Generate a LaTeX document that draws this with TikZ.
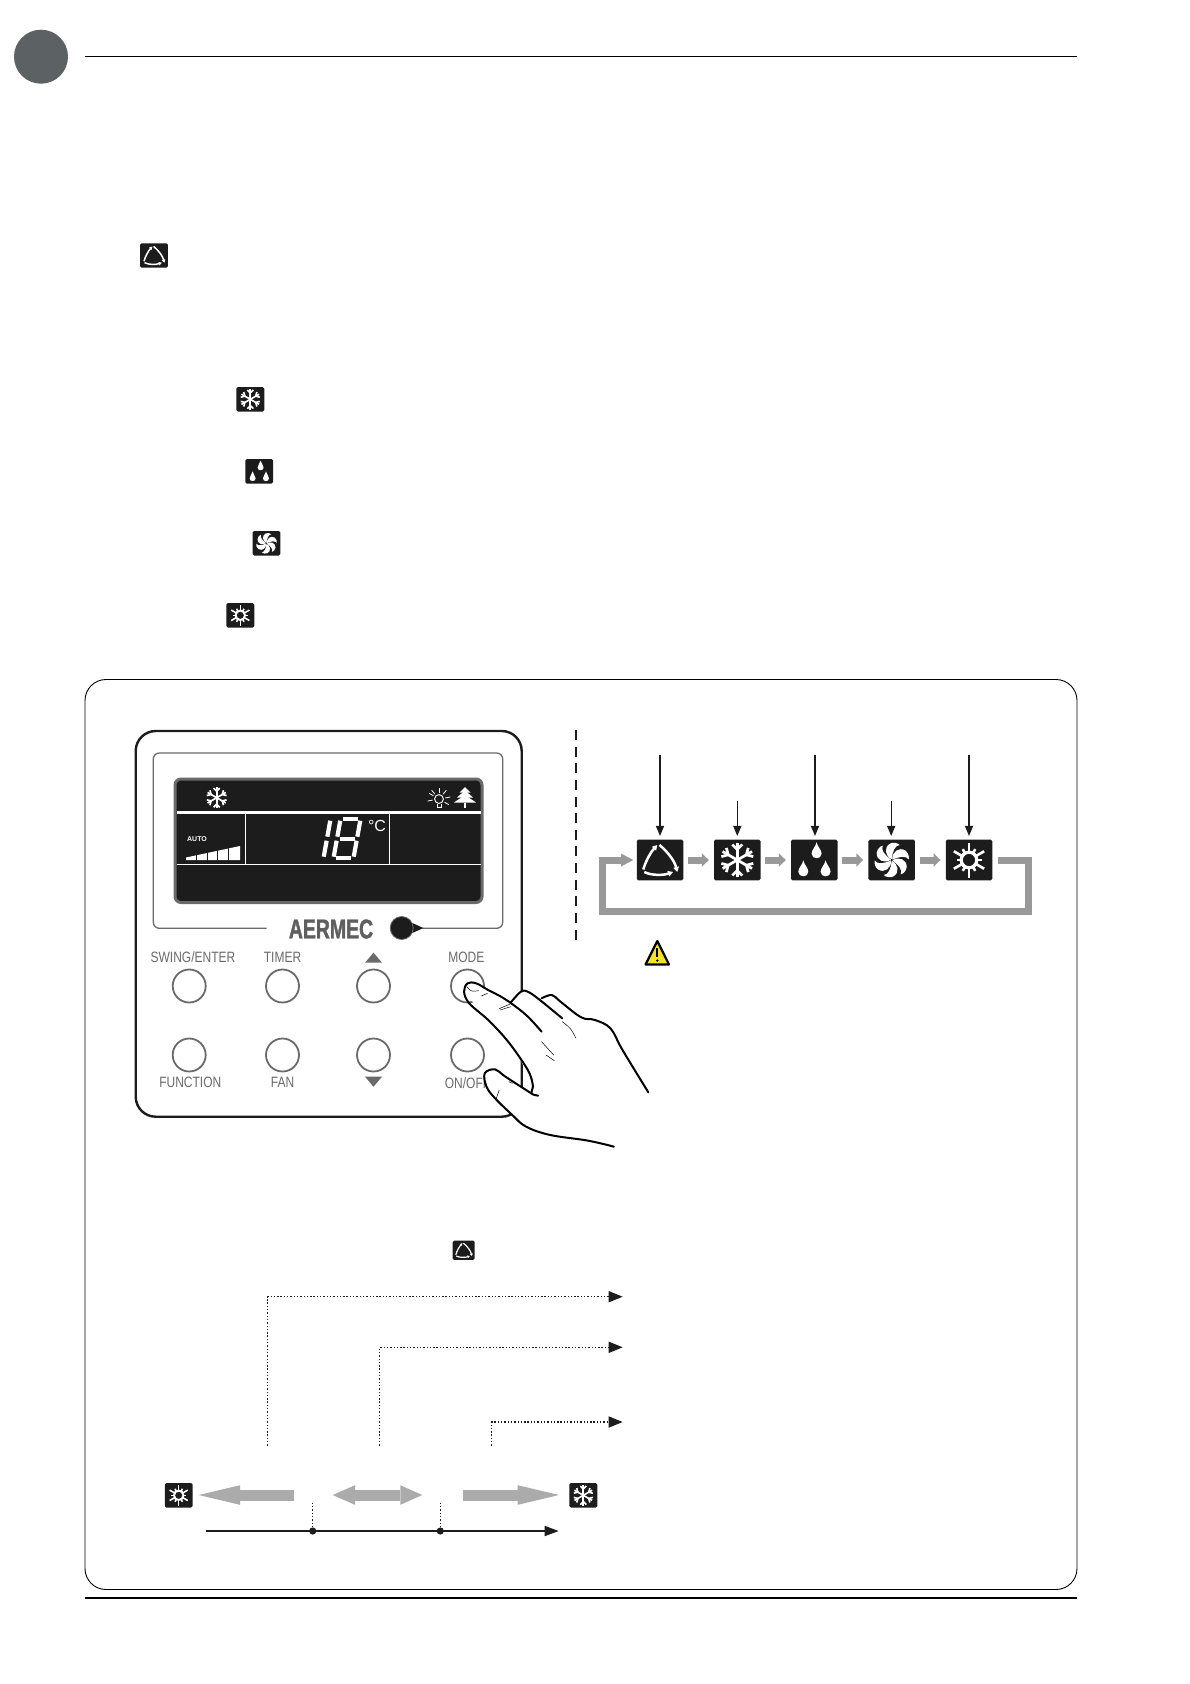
\documentclass[tikz,border=0pt]{standalone}
\usepackage{fontspec}
\setmainfont{Liberation Sans}
\newfontfamily\panelfont[FakeStretch=0.8]{Liberation Sans}
\newfontfamily\logofont[FakeStretch=0.72,BoldFeatures={FakeStretch=0.72,FakeBold=1.4}]{Liberation Sans}
\usepackage{tikz}
\usetikzlibrary{arrows.meta}
\definecolor{xdark}{HTML}{1C1C1C}
\definecolor{xpanel}{HTML}{6A6A6A}
\definecolor{xflow}{HTML}{999999}
\definecolor{xband}{HTML}{ABABAB}
\definecolor{xyellow}{HTML}{F4E41C}
\definecolor{xbadge}{HTML}{5C6163}
\tikzset{
	iconbox/.style={fill=xdark, rounded corners=1.5pt, inner sep=0pt},
	glyph/.style={white, line width=\gs*2.7pt},
	pointer/.style={xdark, line width=1.4pt, -{Triangle[length=10pt,width=8pt]}},
	flowarrow/.style={xflow, line width=7pt, -{Triangle[length=7pt,width=13pt]}, shorten >=5pt, shorten <=4.4pt},
	loopline/.style={xflow, line width=7pt, miter limit=10},
	dotline/.style={xdark, line width=1.5pt, dash pattern=on 1.4pt off 1.9pt},
	dotarrow/.style={dotline, -{Triangle[length=14pt,width=11pt]}},
	bandarrow/.style={xband, line width=11pt},
	handline/.style={black, line width=2pt, line cap=round, line join=round},
	creaseline/.style={black, line width=.5pt, line cap=round},
	keybutton/.style={circle, draw=xpanel, line width=1.8pt, minimum size=33pt, inner sep=0pt},
	keylabel/.style={text=xpanel, font=\panelfont\fontsize{15}{15}\selectfont, inner sep=0pt},
	autoarc/.style={white, line width=\gs*2.5pt, -{Triangle[length=\gs*5pt,width=\gs*5.5pt]}},
	pics/autoglyph/.style={code={
		\draw[autoarc] (-16.7,9.5) .. controls (-15,3) and (-10,-7) .. (-2.7,-15);
		\draw[autoarc] (-0.5,-15) .. controls (8,-8) and (14.5,1) .. (17.3,12);
		\draw[autoarc] (-15.7,12) .. controls (-9,15.5) and (3,15.5) .. (13,12);
	}},
	pics/snowglyph/.style={code={
		\foreach \a in {0,60,...,300} {
			\begin{scope}[rotate=\a]
				\draw[glyph] (0,0) -- (0,-17);
				\draw[glyph, line join=miter] (-5,-15.5) -- (0,-10.5) -- (5,-15.5);
			\end{scope}
		}
	}},
	pics/dropglyph/.style={code={
		\foreach \x/\y in {2.3/-9.3, -11/8.8, 11.3/8.8} {
			\fill[white, shift={(\x,\y)}] (0,-8.5) .. controls (.8,-4) and (5,-1) .. (5,3) .. controls (5,6) and (2.6,7.5) .. (0,7.5) .. controls (-2.6,7.5) and (-5,6) .. (-5,3) .. controls (-5,-1) and (-.8,-4) .. (0,-8.5) -- cycle;
		}
	}},
	pics/fanglyph/.style={code={
		\foreach \a in {0,60,...,300} {
			\fill[white, rotate=\a] (0,-.8) .. controls (-7,-4) and (-8,-13) .. (-1.5,-16.5) .. controls (2,-18) and (6,-17) .. (8,-15) .. controls (3,-14.5) and (1,-9) .. (0,-.8) -- cycle;
		}
		\fill[xdark] (0,0) circle (.7);
	}},
	pics/sunglyph/.style={code={
		\draw[white, line width=\gs*3.2pt] (0,0) circle (7.8);
		\foreach \a in {0,60,...,300} {
			\draw[white, line width=\gs*2.6pt, rotate=\a] (0,-8) -- (0,-17.5);
			\draw[white, line width=\gs*2.6pt, rotate=\a+30] (0,-8) -- (0,-12.5);
		}
	}},
}
\newcommand{\modeicon}[4][1]{
	\def\gs{#1}
	\node[iconbox, minimum width=#1*46.5pt, minimum height=#1*40.7pt] (#2) at (#4) {};
	\pic[scale=#1] at (#2) {#3};
}
\begin{document}
\begin{tikzpicture}[x=1pt, y=-1pt]
	\useasboundingbox (0,0) rectangle (1190,1684);

% Page head and frame
	\fill[xbadge] (41,56.7) circle (27);
	\draw[black, line width=1.1pt] (85,56.3) -- (1077,56.3);
	\draw[black, line width=.9pt, rounded corners=21pt] (85,679.5) rectangle (1077,1589.5);
	\draw[black, line width=2pt] (85,1598.4) -- (1077,1598.4);

% Icons in the text column
	\modeicon[.6]{autotxt}{autoglyph}{154,255.5}
	\modeicon[.6]{cooltxt}{snowglyph}{250.3,399.3}
	\modeicon[.6]{drytxt}{dropglyph}{259.2,471.3}
	\modeicon[.6]{fantxt}{fanglyph}{266.5,543.3}
	\modeicon[.6]{heattxt}{sunglyph}{240.3,615.3}

% Remote control
	\draw[xdark, line width=2.4pt, rounded corners=20pt] (135.7,731) rectangle (521.7,1116.7);
	\draw[xpanel, line width=1.3pt, rounded corners=6pt] (266.7,928.3) -- (153.3,928.3) -- (153.3,753) -- (502.7,753) -- (502.7,928.3) -- (416.7,928.3);
	\draw[fill=xdark, draw=xpanel, line width=3pt, rounded corners=6pt] (175,779) rectangle (482,902.5);
	\draw[white, line width=3pt] (176.5,812.3) -- (480.5,812.3);
	\draw[white, line width=.9pt] (176.5,864.3) -- (480.5,864.3);
	\draw[white, line width=.9pt] (245.3,812.3) -- (245.3,864.3);
	\draw[white, line width=.9pt] (389.3,812.3) -- (389.3,864.3);
	\def\gs{.62}
	\pic[scale=.62] at (216.7,797.7) {snowglyph};
	\node[text=white, font=\bfseries\fontsize{7}{7}\selectfont, inner sep=0pt] (autotag) at (197,839.5) {AUTO};
	\fill[white] (186,857.5) -- (240,846) -- (240,860) -- (186,860) -- cycle;
	\foreach \x in {196.3,207,217.7,228.5} {
		\draw[xdark, line width=.7pt] (\x,843) -- (\x,861);
	}
	\begin{scope}[shift={(347,838.7)}, xslant=.18]
		\foreach \xa/\ya/\xb/\yb in {-7.5/-19.5/7.5/-19.5, -7.5/0/7.5/0, -7.5/19.5/7.5/19.5, -10/-18/-10/-2, 10/-18/10/-2, -10/2/-10/18, 10/2/10/18, -20/-18/-20/-2, -20/2/-20/18} {
			\draw[white, line width=4.2pt] (\xa,\ya) -- (\xb,\yb);
		}
	\end{scope}
	\node[text=white, font=\fontsize{16}{16}\selectfont, inner sep=0pt] (degree) at (377,826) {°C};
	\draw[white, line width=.9pt] (439,799) circle (4.4);
	\draw[white, line width=.9pt] (437,803.5) -- (437,807) -- (441,807) -- (441,803.5);
	\foreach \a in {-90,-50,-10,30,-130,170,210} {
		\draw[white, line width=.8pt] (439,799) ++(\a:6.5) -- ++(\a:5);
	}
	\fill[white] (465,787) -- (470.5,792.5) -- (459.5,792.5) -- cycle;
	\fill[white] (465,790.5) -- (473,797.5) -- (457,797.5) -- cycle;
	\fill[white] (465,795) -- (476,802.5) -- (454,802.5) -- cycle;
	\fill[white] (464,802.5) rectangle (466,807.5);
	\node[text=xpanel!90!black, font=\logofont\bfseries\fontsize{27}{27}\selectfont, inner sep=0pt] (logo) at (331,929) {AERMEC};
	\fill[xdark] (423.3,928) -- (408,921) -- (408,935) -- cycle;
	\node[circle, fill=xdark, draw=xpanel, line width=.8pt, minimum size=23pt, inner sep=0pt] (sensor) at (401.7,928) {};

	\node[keybutton] (swing) at (189.2,986) {};
	\node[keybutton] (timer) at (282.5,986) {};
	\node[keybutton] (up) at (373.5,986) {};
	\node[keybutton] (mode) at (467.5,986) {};
	\node[keybutton] (func) at (189.2,1055) {};
	\node[keybutton] (fan) at (282.5,1055) {};
	\node[keybutton] (down) at (373.5,1055) {};
	\node[keybutton] (onoff) at (467.5,1055) {};
	\node[keylabel] (swinglab) at (193,957.3) {SWING/ENTER};
	\node[keylabel] (timerlab) at (282.5,957.3) {TIMER};
	\node[keylabel] (modelab) at (466.4,957.3) {MODE};
	\node[keylabel] (funclab) at (190.3,1082.7) {FUNCTION};
	\node[keylabel] (fanlab) at (282.5,1082.7) {FAN};
	\node[keylabel] (onofflab) at (467.5,1082.7) {ON/OFF};
	\fill[xpanel] (373.5,952.7) -- (382,962.7) -- (365,962.7) -- cycle;
	\fill[xpanel] (373.5,1086.7) -- (382,1076.7) -- (365,1076.7) -- cycle;

% Hand
	\begin{scope}[shift={(130,930)}, xscale=.3444, yscale=.3333]
		\fill[white] (985,155) -- (1040,180) -- (1105,218) -- (1135,185) -- (1155,185) -- (1190,205) -- (1225,195) -- (1310,262) -- (1395,295) -- (1505,487) -- (1405,650) -- (1220,615) -- (1150,590) -- (1060,505) -- (1035,470) -- (1030,430) -- (1060,418) -- (1090,440) -- (1165,490) -- (1170,470) -- (1130,380) -- (1040,270) -- (970,185) -- cycle;
		\draw[handline] plot[smooth, tension=.6] coordinates {(1195,305) (1150,255) (1090,208) (1040,180) (1005,160) (980,160) (970,185) (985,220) (1040,270) (1090,325) (1130,380) (1160,430) (1170,470) (1165,490) (1185,497)};
		\draw[handline] plot[smooth, tension=.6] coordinates {(1105,218) (1135,185) (1155,185) (1190,210) (1255,265)};
		\draw[handline] plot[smooth, tension=.6] coordinates {(1195,205) (1225,195) (1250,215) (1310,262) (1350,270) (1395,295) (1430,360) (1505,487)};
		\draw[handline] plot[smooth, tension=.6] coordinates {(1165,490) (1090,440) (1060,418) (1030,430) (1035,470) (1060,505) (1110,555) (1150,590) (1220,615) (1330,632) (1405,650)};
		\draw[creaseline] (978,170) .. controls (990,185) .. (1012,182);
		\draw[creaseline] (1020,198) -- (1038,190);
		\draw[creaseline] (1072,236) -- (1104,222);
		\draw[creaseline] (1075,240) -- (1105,230);
		\draw[creaseline] (1195,335) -- (1230,375);
		\draw[creaseline] (1208,375) -- (1232,392);
		\draw[creaseline] (1255,275) .. controls (1280,295) .. (1295,325);
		\draw[creaseline] (1062,510) -- (1072,480);
		\draw[creaseline] (1100,455) -- (1110,460);
	\end{scope}

% Mode sequence
	\draw[xdark, line width=1.1pt, dash pattern=on 10pt off 6.64pt] (576,730) -- (576,939.7);
	\modeicon{autoico}{autoglyph}{660,860}
	\modeicon{coolico}{snowglyph}{737.3,860}
	\modeicon{dryico}{dropglyph}{814.3,860}
	\modeicon{fanico}{fanglyph}{891.7,860}
	\modeicon{heatico}{sunglyph}{969,860}
	\coordinate (autotop) at (660,755);
	\coordinate (cooltop) at (737.3,801);
	\coordinate (drytop) at (815,755);
	\coordinate (fantop) at (891.2,801);
	\coordinate (heattop) at (969,755);
	\draw[pointer, shorten >=3.5pt] (autotop) -- (autotop |- autoico.north);
	\draw[pointer, shorten >=3.5pt] (cooltop) -- (cooltop |- coolico.north);
	\draw[pointer, shorten >=3.5pt] (drytop) -- (drytop |- dryico.north);
	\draw[pointer, shorten >=3.5pt] (fantop) -- (fantop |- fanico.north);
	\draw[pointer, shorten >=3.5pt] (heattop) -- (heattop |- heatico.north);
	\draw[flowarrow] (autoico) -- (coolico);
	\draw[flowarrow] (coolico) -- (dryico);
	\draw[flowarrow] (dryico) -- (fanico);
	\draw[flowarrow] (fanico) -- (heatico);
	\draw[loopline] ([xshift=5.7pt]heatico.east) -- (1028.7,860) -- (1028.7,911.7) -- (602.3,911.7) -- (602.3,860) -- (623,860);
	\fill[xflow] (621,853.5) -- (633.3,860) -- (621,866.5) -- cycle;
	\draw[fill=xyellow, draw=black, line width=2.2pt, line join=round] (657.3,941) -- (669,964.5) -- (645.5,964.5) -- cycle;
	\draw[black, line width=2pt] (657.3,948) -- (657.3,957);
	\fill[black] (657.3,960.5) circle (1.3);

% Automatic mode band
	\modeicon[.475]{autolow}{autoglyph}{463.7,1250.3}
	\coordinate (s1) at (267.7,1445.7);
	\coordinate (s2) at (379.7,1445.7);
	\coordinate (s3) at (491.7,1445.7);
	\coordinate (e1) at (622.7,1296.7);
	\coordinate (e2) at (622.7,1347.3);
	\coordinate (e3) at (622.7,1422);
	\draw[dotarrow] (s1) |- (e1);
	\draw[dotarrow] (s2) |- (e2);
	\draw[dotarrow] (s3) |- (e3);
	\modeicon[.6]{heatlow}{sunglyph}{178.7,1495.3}
	\modeicon[.6]{coollow}{snowglyph}{583.3,1495.3}
	\coordinate (b1) at (294,1495);
	\coordinate (b2) at (198.7,1495);
	\coordinate (b3) at (332.7,1495);
	\coordinate (b4) at (422.3,1495);
	\coordinate (b5) at (463,1495);
	\coordinate (b6) at (559,1495);
	\draw[bandarrow] (b1) -- (240,1495);
	\fill[xband] (b2) -- (240,1485.2) -- (240,1504.8) -- cycle;
	\draw[bandarrow] (355,1495) -- (400.3,1495);
	\fill[xband] (b3) -- (355,1485.2) -- (355,1504.8) -- cycle;
	\fill[xband] (b4) -- (400.3,1485.2) -- (400.3,1504.8) -- cycle;
	\draw[bandarrow] (b5) -- (517.7,1495);
	\fill[xband] (b6) -- (517.7,1485.2) -- (517.7,1504.8) -- cycle;
	\coordinate (a0) at (206,1531);
	\coordinate (a1) at (558.7,1531);
	\coordinate (t1) at (312.7,1531);
	\coordinate (t2) at (440.3,1531);
	\coordinate (u1) at (312.7,1502.7);
	\coordinate (u2) at (440.3,1502.7);
	\draw[xdark, line width=1.6pt, -{Triangle[length=14pt,width=10pt]}] (a0) -- (a1);
	\draw[dotline] (u1) -- (t1);
	\draw[dotline] (u2) -- (t2);
	\fill[xdark] (t1) circle (3.6);
	\fill[xdark] (t2) circle (3.6);
\end{tikzpicture}
\end{document}
